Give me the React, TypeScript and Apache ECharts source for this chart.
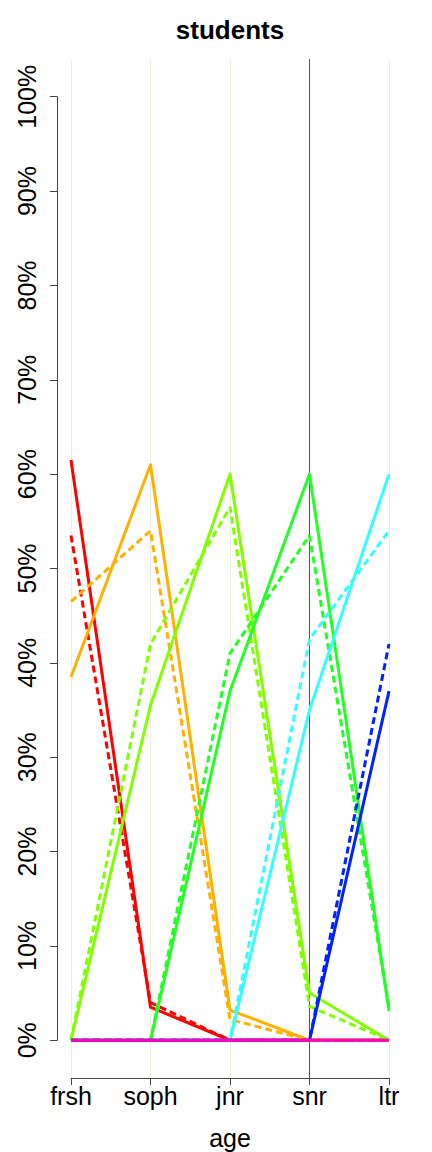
import React, { useEffect, useRef } from "react";
import * as echarts from "echarts";

const ages = ["frsh", "soph", "jnr", "snr", "ltr"];
const yTicks = [0, 10, 20, 30, 40, 50, 60, 70, 80, 90, 100];

const stateColors = ["#FF0000", "#FFB000", "#80FF00", "#22FF22", "#33FFFF", "#0022FF", "#FF00C0"];

// observed proportions (solid lines), percent
const obsRed = [61.5, 3.5, 0, 0, 0];
const obsOrange = [38.5, 61, 3.2, 0, 0];
const obsLime = [0, 35.5, 60, 5, 0];
const obsGreen = [0, 0, 37, 60, 3.1];
const obsCyan = [0, 0, 0, 35, 60];
const obsBlue = [0, 0, 0, 0, 37];
const obsMagenta = [0, 0, 0, 0, 0];

// fitted proportions (dashed lines), percent
const fitRed = [53.5, 4, 0, 0, 0];
const fitOrange = [46.5, 54, 2.2, 0, 0];
const fitLime = [0, 42, 56.5, 3.6, 0];
const fitGreen = [0, 0, 41, 53.5, 3.5];
const fitCyan = [0, 0, 0, 42.5, 54];
const fitBlue = [0, 0, 0, 0, 42];
const fitMagenta = [0, 0, 0, 0, 0];

const observed = [obsRed, obsOrange, obsLime, obsGreen, obsCyan, obsBlue, obsMagenta];
const fitted = [fitRed, fitOrange, fitLime, fitGreen, fitCyan, fitBlue, fitMagenta];

const FONT = "'Liberation Sans', Arial, Helvetica, sans-serif";

export default function App() {
  const ref = useRef<HTMLDivElement>(null);
  useEffect(() => {
    document.body.style.margin = "0";
    const chart = echarts.init(ref.current!, null, { renderer: "svg" });
    const series: any[] = [];
    observed.forEach((vals, i) => {
      series.push({
        type: "line",
        xAxisIndex: 0,
        yAxisIndex: 0,
        data: vals,
        symbol: "none",
        clip: false,
        lineStyle: { color: stateColors[i], width: 3, type: "solid", join: "round" },
        z: 3,
        ...(i === 0
          ? {
              markLine: {
                silent: true,
                symbol: "none",
                label: { show: false },
                lineStyle: { color: "#555", width: 1, type: "solid" },
                data: [{ xAxis: "snr" }],
                z: 1,
              },
            }
          : {}),
      });
      series.push({
        type: "line",
        xAxisIndex: 0,
        yAxisIndex: 0,
        data: fitted[i],
        symbol: "none",
        clip: false,
        lineStyle: { color: stateColors[i], width: 3, type: [7, 4] },
        z: 3,
      });
    });
    chart.setOption({
      animation: false,
      title: {
        text: "students",
        left: 225,
        top: 12,
        textAlign: "center",
        textStyle: { fontFamily: FONT, fontSize: 26, fontWeight: "bold", color: "#000" },
      },
      grid: [
        { left: 71, width: 318, top: 59, height: 1019, outerBoundsMode: "none", containLabel: false },
        { left: 57, width: 345, top: 96.74, height: 943.5, outerBoundsMode: "none", containLabel: false },
      ],
      xAxis: [
        {
          type: "category",
          gridIndex: 0,
          data: ages,
          boundaryGap: false,
          axisLine: { show: true, onZero: false, lineStyle: { color: "#444", width: 1 } },
          axisTick: { show: true, length: 7, lineStyle: { color: "#444" } },
          axisLabel: { fontFamily: FONT, fontSize: 25, color: "#000", margin: 5 },
          splitLine: { show: true, lineStyle: { color: "#EEEEDE", width: 1 } },
          name: "age",
          nameLocation: "middle",
          nameGap: 47,
          nameTextStyle: { fontFamily: FONT, fontSize: 25, color: "#000" },
        },
        { type: "value", gridIndex: 1, show: false, min: 0, max: 1 },
      ],
      yAxis: [
        { type: "value", gridIndex: 0, min: -4, max: 104, show: false },
        {
          type: "value",
          gridIndex: 1,
          min: 0,
          max: 100,
          interval: 10,
          axisLine: { show: true, lineStyle: { color: "#444", width: 1 } },
          axisTick: { show: true, length: 7, lineStyle: { color: "#444" } },
          axisLabel: {
            fontFamily: FONT,
            fontSize: 25,
            color: "#000",
            rotate: 90,
            margin: 18,
            formatter: (v: number) => (yTicks.includes(v) ? v + "%" : ""),
          },
          splitLine: { show: false },
        },
      ],
      series,
    });
    return () => chart.dispose();
  }, []);
  return <div ref={ref} style={{ width: 432, height: 1152 }} />;
}
